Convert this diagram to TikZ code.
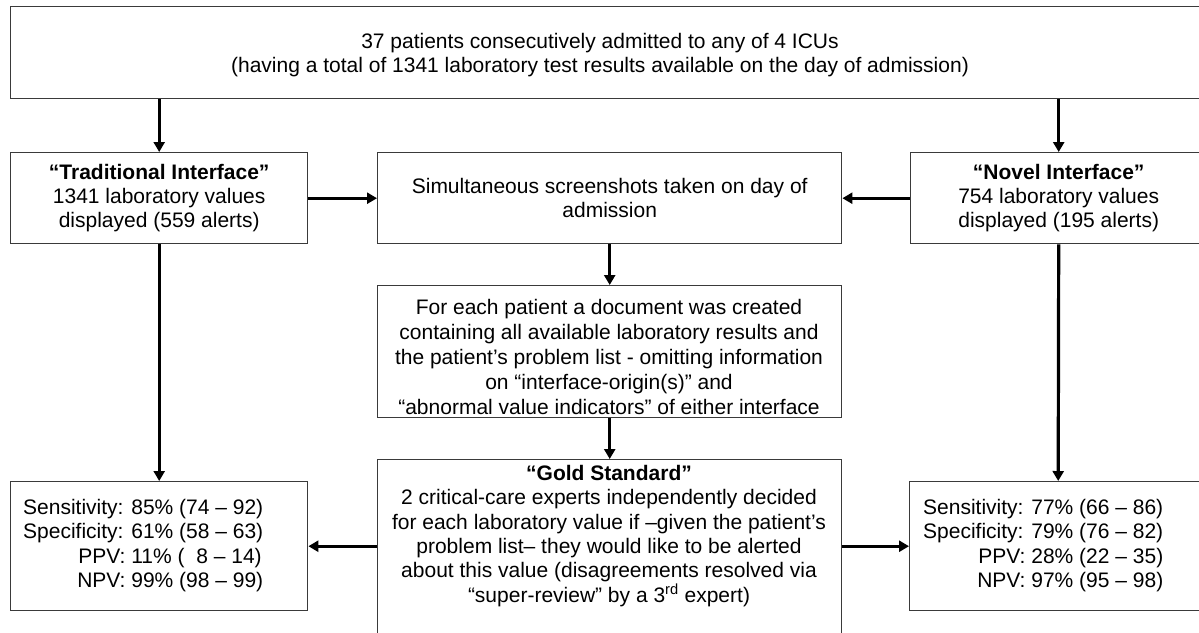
\documentclass[tikz,border=0pt]{standalone}
\usepackage{fontspec}
\setmainfont{Liberation Sans}
\usetikzlibrary{arrows.meta,calc}
\definecolor{boxgray}{HTML}{3A3A3A}
\begin{document}
\begin{tikzpicture}[x=1pt,y=-1pt,
  box/.style={draw=boxgray, line width=1.4pt, inner sep=0pt, anchor=north west},
  txt/.style={font=\fontsize{21}{24.3}\selectfont, align=center, inner sep=0pt},
  arr/.style={line width=3.2pt, -{Triangle[length=10pt,width=11pt]}}]
\useasboundingbox (0,0) rectangle (1199,632);
\clip (0,0) rectangle (1199,632);
% boxes
\node[box, minimum width=1200pt, minimum height=92pt] (top) at (10,6) {};
\node[txt] (toptext) at (600,55) {37 patients consecutively admitted to any of 4 ICUs\\(having a total of 1341 laboratory test results available on the day of admission)};
\node[box, txt, minimum width=297pt, minimum height=91pt] (trad) at (10,152)
  {\textbf{“Traditional Interface”}\\1341 laboratory values\\displayed (559 alerts)};
\node[box, txt, minimum width=464pt, minimum height=91pt] (sim) at (377,152)
  {Simultaneous screenshots taken on day of\\admission};
\node[box, txt, minimum width=296pt, minimum height=91pt] (novel) at (910,152)
  {\textbf{“Novel Interface”}\\754 laboratory values\\displayed (195 alerts)};
\node[box, minimum width=464pt, minimum height=132pt] (doc) at (377,285) {};
\node[txt, font=\fontsize{21}{25.2}\selectfont] (doctext) at (609,357)
  {For each patient a document was created\\containing all available laboratory results and\\the patient’s problem list - omitting information\\on “interface-origin(s)” and\\“abnormal value indicators” of either interface};
\node[box, minimum width=464pt, minimum height=175pt] (gold) at (377,459) {};
\node[txt] (goldtext) at (609,536)
  {\textbf{“Gold Standard”}\\2 critical-care experts independently decided\\for each laboratory value if –given the patient’s\\problem list– they would like to be alerted\\about this value (disagreements resolved via\\“super-review” by a 3\textsuperscript{rd} expert)};
\node[box, minimum width=297pt, minimum height=129pt] (bl) at (10,481) {};
\node[txt, anchor=west] (bltext) at (23,546)
  {\begin{tabular}{@{}r@{ }l@{}}Sensitivity: & 85\% (74 – 92)\\Specificity: & 61\% (58 – 63)\\PPV: & 11\% (\phantom{0}8 – 14)\\NPV: & 99\% (98 – 99)\end{tabular}};
\node[box, minimum width=297pt, minimum height=129pt] (br) at (909,481) {};
\node[txt, anchor=west] (brtext) at (923,546)
  {\begin{tabular}{@{}r@{ }l@{}}Sensitivity: & 77\% (66 – 86)\\Specificity: & 79\% (76 – 82)\\PPV: & 28\% (22 – 35)\\NPV: & 97\% (95 – 98)\end{tabular}};
% arrows
\draw[arr] (trad.north |- top.south) -- (trad.north);
\draw[arr] (novel.north |- top.south) -- (novel.north);
\draw[arr] (trad.east) -- (sim.west);
\draw[arr] (novel.west) -- (sim.east);
\draw[arr] (sim.south) -- (doc.north);
\draw[arr] (doc.south) -- (gold.north);
\draw[arr] (trad.south) -- (bl.north);
\draw[arr] (novel.south) -- (br.north);
\draw[arr] (gold.west |- bl.east) -- (bl.east);
\draw[arr] (gold.east |- br.west) -- (br.west);
\end{tikzpicture}
\end{document}
